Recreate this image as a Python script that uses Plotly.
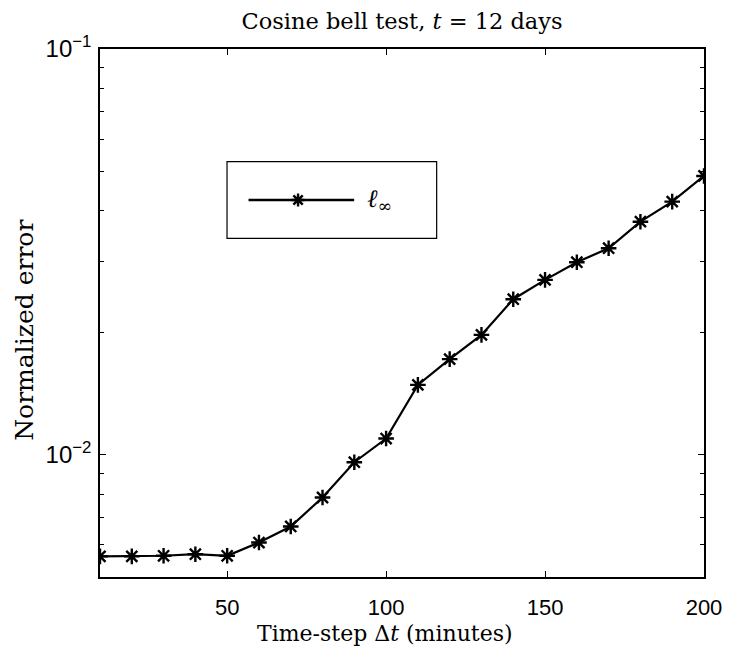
import plotly.graph_objects as go

# ---- data ----
time_step = [10, 20, 30, 40, 50, 60, 70, 80, 90, 100,
             110, 120, 130, 140, 150, 160, 170, 180, 190, 200]
linf_error = [0.00562, 0.00562, 0.00564, 0.00569, 0.00564, 0.00608, 0.00666, 0.00785, 0.00959, 0.01097,
              0.01487, 0.01721, 0.01975, 0.02418, 0.02698, 0.02983, 0.03229, 0.03754, 0.04206, 0.04866]
x_tickvals = [50, 100, 150, 200]
y_tickvals = [0.01, 0.1]
y_ticktext = ["10<sup>\u22122</sup>", "10<sup>\u22121</sup>"]
y_minor = [0.006, 0.007, 0.008, 0.009, 0.02, 0.03, 0.04, 0.05, 0.06, 0.07, 0.08, 0.09]

serif = "DejaVu Serif"
sans = "Liberation Sans"

fig = go.Figure()
fig.add_trace(go.Scatter(
    x=time_step, y=linf_error, mode="lines+markers",
    line=dict(color="black", width=2.2),
    marker=dict(symbol="asterisk-open", size=13, color="black",
                line=dict(color="black", width=2.4)),
    showlegend=False,
))

# legend sample marker on a hidden overlay axis
fig.add_trace(go.Scatter(
    x=[0.3279], y=[0.714], xaxis="x2", yaxis="y2", mode="markers",
    marker=dict(symbol="asterisk-open", size=11, color="black",
                line=dict(color="black", width=2.4)),
    showlegend=False, hoverinfo="skip",
))

fig.update_layout(
    width=734, height=652,
    margin=dict(l=100, r=24, t=49, b=75),
    paper_bgcolor="white", plot_bgcolor="white",
    showlegend=False,
    title=dict(text="Cosine bell test, <i>t</i> = 12 days",
               x=0.5, xref="paper", xanchor="center",
               y=1 - 21 / 652, yref="container", yanchor="middle",
               font=dict(family=serif, size=22.5, color="black")),
    xaxis=dict(range=[10, 200], tickvals=x_tickvals,
               ticks="inside", ticklen=6, tickwidth=1, tickcolor="black",
               showline=True, linecolor="black", linewidth=1.5, mirror="allticks",
               showgrid=False, zeroline=False,
               tickfont=dict(family=sans, size=22, color="black"),
               ticklabelstandoff=10),
    yaxis=dict(type="log", range=[-2.30103, -1],
               tickvals=y_tickvals, ticktext=y_ticktext,
               ticks="inside", ticklen=6, tickwidth=1, tickcolor="black",
               minor=dict(tickvals=y_minor, ticks="inside", ticklen=4,
                          tickwidth=1, tickcolor="black", showgrid=False),
               showline=True, linecolor="black", linewidth=1.5, mirror="allticks",
               showgrid=False, zeroline=False,
               tickfont=dict(family=sans, size=24, color="black"),
               ticklabelstandoff=2),
    xaxis2=dict(overlaying="x", range=[0, 1], visible=False, fixedrange=True),
    yaxis2=dict(overlaying="y", range=[0, 1], visible=False, fixedrange=True),
    annotations=[
        dict(text="Time-step \u0394<i>t</i> (minutes)", xref="paper", yref="paper",
             x=0.472, y=-(633 - 577) / 528, xanchor="center", yanchor="middle",
             showarrow=False, font=dict(family=serif, size=22, color="black")),
        dict(text="Normalized error", xref="paper", yref="paper",
             x=(23 - 100) / 610, y=1 - (330 - 49) / 528, xanchor="center", yanchor="middle",
             textangle=-90, showarrow=False,
             font=dict(family=serif, size=25, color="black")),
        dict(text="<i>\u2113</i><sub>\u221e</sub>", xref="paper", yref="paper",
             x=0.4393, y=0.714, xanchor="left", yanchor="middle",
             showarrow=False, font=dict(family=serif, size=25, color="black")),
    ],
    shapes=[
        dict(type="rect", xref="paper", yref="paper",
             x0=0.2103, x1=0.5574, y0=0.6415, y1=0.7866,
             line=dict(color="black", width=1.2), fillcolor="white", layer="below"),
        dict(type="line", xref="paper", yref="paper",
             x0=0.2459, x1=0.4208, y0=0.714, y1=0.714,
             line=dict(color="black", width=2.5), layer="below"),
    ],
)

fig.write_html("out.html")
